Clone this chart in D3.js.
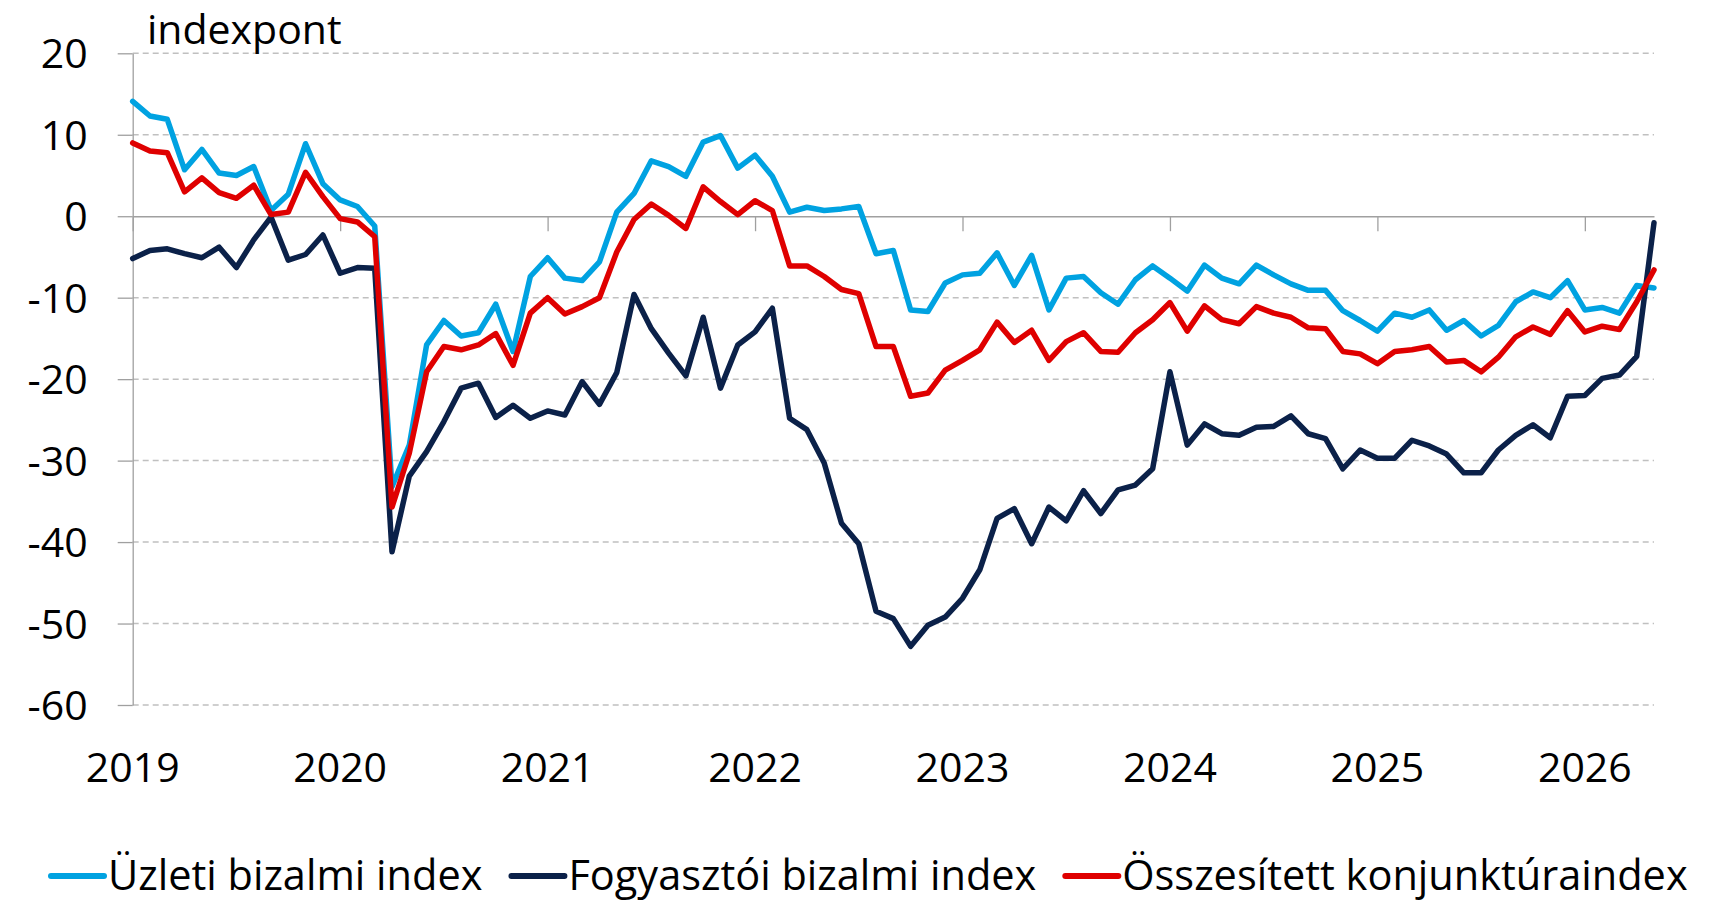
<!DOCTYPE html>
<html>
<head>
<meta charset="utf-8">
<script src="https://cdn.jsdelivr.net/npm/d3@7"></script>
<style>
  body { margin: 0; background: #fff; }
  svg text { font-family: "Open Sans", "Noto Sans", sans-serif; fill: #000; }
</style>
</head>
<body>
<div id="chart"></div>
<script>
// frame size
const WIDTH = 1717;
const HEIGHT = 902;
const MARGINS = {left: 132.7, right: 63, top: 53.3, bottom: 197};

// monthly data, Jan 2019 .. May 2026
const years = [2019, 2020, 2021, 2022, 2023, 2024, 2025, 2026];
const yTicks = [20, 10, 0, -10, -20, -30, -40, -50, -60];

const uzleti = [14.1, 12.3, 11.9, 5.7, 8.2, 5.3, 5.0, 6.1, 0.7, 2.7, 8.9, 4.0,
  2.0, 1.2, -1.2, -33.2, -28.1, -15.8, -12.8, -14.7, -14.3, -10.8, -16.6, -7.4,
  -5.1, -7.6, -7.9, -5.6, 0.5, 2.8, 6.8, 6.1, 4.9, 9.1, 9.9, 5.9,
  7.5, 4.9, 0.5, 1.1, 0.7, 0.9, 1.2, -4.6, -4.2, -11.5, -11.7, -8.2,
  -7.2, -7.0, -4.5, -8.5, -4.8, -11.5, -7.6, -7.4, -9.4, -10.8, -7.8, -6.1,
  -7.6, -9.2, -6.0, -7.6, -8.3, -6.0, -7.2, -8.3, -9.1, -9.1, -11.6, -12.8,
  -14.1, -11.9, -12.4, -11.5, -14.0, -12.8, -14.7, -13.4, -10.5, -9.3, -10.0, -7.9,
  -11.5, -11.2, -11.9, -8.5, -8.8];

const fogyasztoi = [-5.2, -4.2, -4.0, -4.6, -5.1, -3.8, -6.3, -2.9, -0.1, -5.4, -4.7, -2.3,
  -7.0, -6.3, -6.4, -41.2, -31.9, -28.9, -25.2, -21.1, -20.5, -24.7, -23.2, -24.8,
  -23.9, -24.4, -20.3, -23.1, -19.2, -9.6, -13.8, -16.8, -19.6, -12.4, -21.1, -15.8,
  -14.2, -11.3, -24.8, -26.2, -30.3, -37.7, -40.2, -48.5, -49.4, -52.8, -50.2, -49.2,
  -46.9, -43.4, -37.1, -35.9, -40.2, -35.7, -37.4, -33.7, -36.5, -33.6, -33.0, -31.0,
  -19.1, -28.1, -25.5, -26.7, -26.9, -25.9, -25.8, -24.5, -26.7, -27.3, -31.0, -28.7,
  -29.7, -29.7, -27.5, -28.2, -29.2, -31.5, -31.5, -28.7, -26.9, -25.6, -27.2, -22.1,
  -22.0, -19.9, -19.5, -17.2, -0.8];

const osszesitett = [9.0, 8.0, 7.8, 3.0, 4.7, 2.9, 2.2, 3.8, 0.2, 0.5, 5.4, 2.4,
  -0.3, -0.7, -2.5, -35.7, -29.1, -19.1, -16.0, -16.4, -15.8, -14.4, -18.3, -11.9,
  -10.0, -12.0, -11.1, -10.0, -4.4, -0.4, 1.5, 0.1, -1.5, 3.6, 1.8, 0.2,
  1.9, 0.7, -6.1, -6.1, -7.4, -9.0, -9.5, -16.0, -16.0, -22.1, -21.7, -18.9,
  -17.7, -16.4, -13.0, -15.5, -14.0, -17.7, -15.4, -14.3, -16.6, -16.7, -14.3, -12.7,
  -10.6, -14.1, -11.0, -12.7, -13.2, -11.1, -11.9, -12.4, -13.7, -13.8, -16.6, -16.9,
  -18.1, -16.6, -16.4, -16.0, -17.9, -17.7, -19.1, -17.3, -14.8, -13.6, -14.5, -11.6,
  -14.2, -13.5, -13.9, -10.5, -6.6];

const seriesNames = ["Üzleti bizalmi index", "Fogyasztói bizalmi index", "Összesített konjunktúraindex"];
const seriesColors = ["#00a2e1", "#0b2149", "#df0000"];
const seriesData = [uzleti, fogyasztoi, osszesitett];

const FONT = 41;

let svg = d3.select("#chart").append("svg")
  .attr("width", WIDTH)
  .attr("height", HEIGHT);

// scales: x is month index
const x = d3.scaleLinear()
  .domain([0, uzleti.length - 1])
  .range([MARGINS.left, WIDTH - MARGINS.right]);
const y = d3.scaleLinear()
  .domain([-60, 20])
  .range([HEIGHT - MARGINS.bottom, MARGINS.top]);

// dashed gridlines
svg.append("g")
  .selectAll("line")
  .data(yTicks.filter(d => d != 0))
  .enter().append("line")
  .attr("x1", x.range()[0])
  .attr("x2", x.range()[1])
  .attr("y1", d => y(d))
  .attr("y2", d => y(d))
  .attr("stroke", "#c0c0c0")
  .attr("stroke-width", 1.5)
  .attr("stroke-dasharray", "6,4");

// y axis (plain hyphen for negatives, like the original)
let yAxis = svg.append("g")
  .attr("transform", "translate(" + MARGINS.left + ",0)")
  .call(d3.axisLeft(y).tickValues(yTicks).tickSize(15).tickSizeOuter(0).tickPadding(30)
    .tickFormat(d => String(d)));
yAxis.selectAll("path, line").attr("stroke", "#a0a0a0").attr("stroke-width", 1.3);
yAxis.selectAll("text")
  .attr("font-size", FONT)
  .attr("dy", "0.355em")
  .style("font-family", "'Open Sans', sans-serif");

// x axis at zero
let xAxis = svg.append("g")
  .attr("transform", "translate(0," + y(0) + ")")
  .call(d3.axisBottom(x).tickValues(years.map((d, i) => i * 12)).tickSize(15).tickSizeOuter(0).tickFormat(""));
xAxis.selectAll("path, line").attr("stroke", "#a0a0a0").attr("stroke-width", 1.3);

// year labels under the plot
svg.append("g")
  .selectAll("text")
  .data(years)
  .enter().append("text")
  .attr("x", (d, i) => x(i * 12))
  .attr("y", 781.7)
  .attr("text-anchor", "middle")
  .attr("font-size", FONT)
  .text(d => d);

// unit label
svg.append("text")
  .attr("x", 147)
  .attr("y", 44)
  .attr("font-size", FONT)
  .text("indexpont");

// lines
let line = d3.line()
  .x((d, i) => x(i))
  .y(d => y(d));

svg.append("g")
  .selectAll("path")
  .data(seriesData)
  .enter().append("path")
  .attr("d", line)
  .attr("fill", "none")
  .attr("stroke", (d, i) => seriesColors[i])
  .attr("stroke-width", 5.5)
  .attr("stroke-linejoin", "round")
  .attr("stroke-linecap", "round");

// legend
let legend = svg.append("g");
let lx = 49;
seriesNames.forEach(function(name, i) {
  legend.append("line")
    .attr("x1", lx + 2)
    .attr("x2", lx + 55)
    .attr("y1", 876)
    .attr("y2", 876)
    .attr("stroke", seriesColors[i])
    .attr("stroke-width", 6)
    .attr("stroke-linecap", "round");
  let t = legend.append("text")
    .attr("x", lx + 59)
    .attr("y", 890)
    .attr("font-size", 41.5)
    .text(name);
  lx = lx + 59 + t.node().getComputedTextLength() + 27;
});
</script>
</body>
</html>
